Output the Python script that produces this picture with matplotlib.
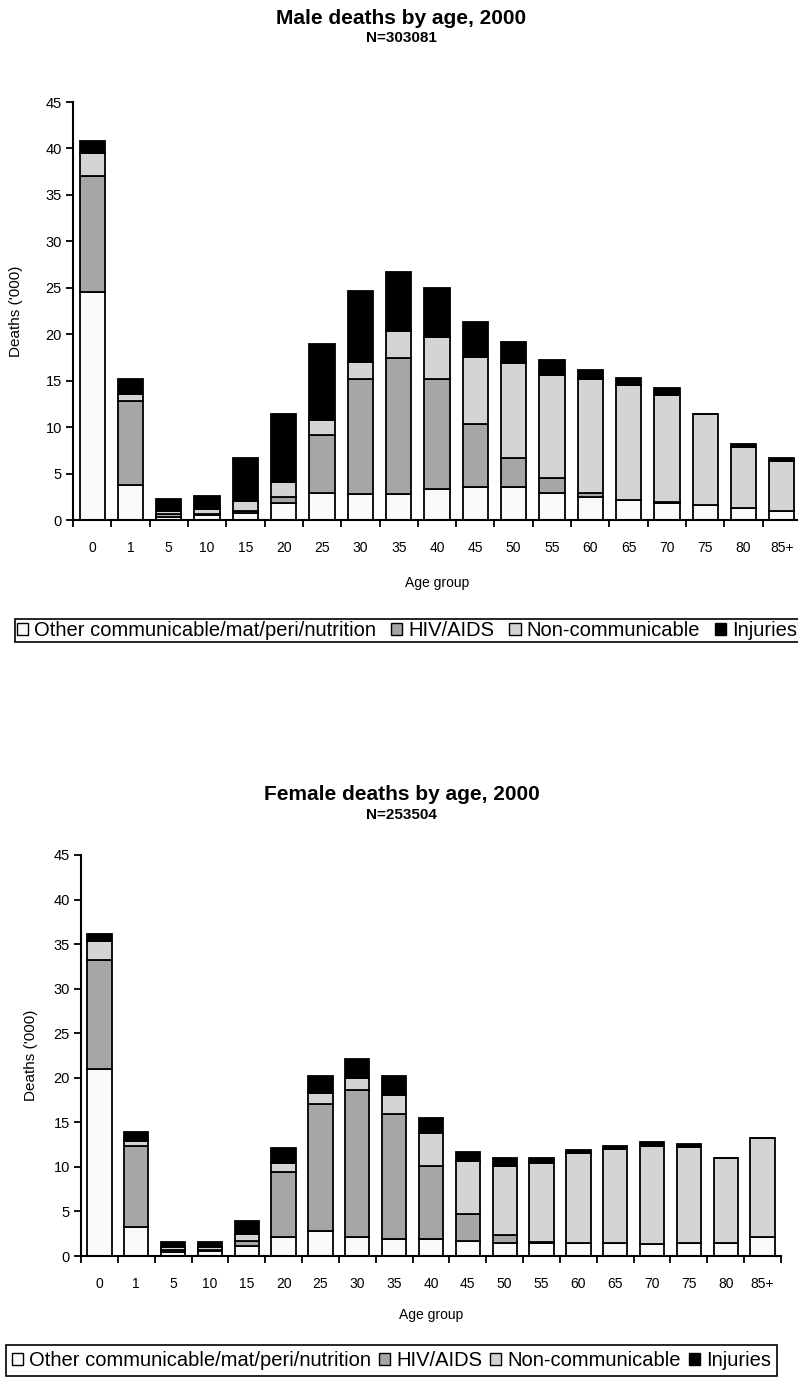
import numpy as np
import matplotlib
matplotlib.use("Agg")
import matplotlib.pyplot as plt
import matplotlib.patches as mpatches

plt.rcParams['font.family'] = ['Liberation Sans', 'DejaVu Sans']

age_groups = ['0', '1', '5', '10', '15', '20', '25', '30', '35', '40', '45',
              '50', '55', '60', '65', '70', '75', '80', '85+']
causes = ['Other communicable/mat/peri/nutrition', 'HIV/AIDS',
          'Non-communicable', 'Injuries']
cause_colors = ['#fafafa', '#a6a6a6', '#d4d4d4', '#000000']

# deaths in thousands, males
male_other = [24.5, 3.8, 0.3, 0.5, 0.8, 1.8, 2.9, 2.75, 2.75, 3.35, 3.6, 3.6,
              2.95, 2.5, 2.1, 1.85, 1.65, 1.25, 1.0]
male_hiv = [12.5, 9.0, 0.3, 0.15, 0.15, 0.7, 6.3, 12.45, 14.65, 11.85, 6.7,
            3.05, 1.55, 0.45, 0.05, 0.05, 0.0, 0.0, 0.0]
male_noncomm = [2.5, 0.8, 0.4, 0.5, 1.05, 1.6, 1.6, 1.85, 2.9, 4.5, 7.2,
                10.25, 11.1, 12.25, 12.4, 11.6, 9.75, 6.65, 5.35]
male_injuries = [1.25, 1.6, 1.3, 1.45, 4.65, 7.3, 8.1, 7.55, 6.45, 5.3, 3.8,
                 2.3, 1.6, 0.95, 0.7, 0.7, 0.05, 0.3, 0.3]

# deaths in thousands, females
female_other = [21.0, 3.2, 0.4, 0.6, 1.1, 2.1, 2.8, 2.1, 1.9, 1.9, 1.7, 1.5,
                1.5, 1.5, 1.5, 1.3, 1.5, 1.5, 2.1]
female_hiv = [12.2, 9.1, 0.3, 0.1, 0.6, 7.3, 14.25, 16.5, 14.0, 8.25, 3.0,
              0.9, 0.05, 0.0, 0.0, 0.0, 0.0, 0.0, 0.0]
female_noncomm = [2.1, 0.55, 0.3, 0.3, 0.8, 1.05, 1.25, 1.4, 2.15, 3.65, 5.95,
                  7.65, 8.9, 10.05, 10.5, 11.1, 10.7, 9.5, 11.1]
female_injuries = [0.8, 1.05, 0.6, 0.6, 1.4, 1.7, 1.85, 2.15, 2.1, 1.65, 1.0,
                   0.95, 0.55, 0.3, 0.3, 0.35, 0.35, 0.05, 0.05]

W, H = 798, 1383
fig = plt.figure(figsize=(W / 100, H / 100), dpi=100)


def fx(px):
    return px / W


def fy(py):
    return 1 - py / H


def draw_panel(rect, series, title, subtitle, title_y, legend_xy,
               xlabelpad, ylabelpad, colspace, legpad):
    ax = fig.add_axes(rect)
    x = np.arange(len(age_groups))
    bottom = np.zeros(len(age_groups))
    for vals, col in zip(series, cause_colors):
        vals = np.array(vals)
        ax.bar(x, vals, width=0.66, bottom=bottom, color=col,
               edgecolor='black', linewidth=1.3)
        bottom += vals

    ax.set_xlim(-0.5, len(age_groups) - 0.5)
    ax.set_ylim(0, 45)
    ax.set_yticks(np.arange(0, 46, 5))
    ax.set_xticks(np.arange(-0.5, len(age_groups), 1.0))
    ax.set_xticklabels([])
    ax.set_xticks(x, minor=True)
    ax.set_xticklabels(age_groups, minor=True)
    ax.tick_params(axis='x', which='major', direction='out', length=5,
                   width=1.3)
    ax.tick_params(axis='x', which='minor', length=0, pad=15, labelsize=10)
    ax.tick_params(axis='y', direction='out', length=5, width=1.3,
                   labelsize=10.5, pad=3)
    for s in ['top', 'right']:
        ax.spines[s].set_visible(False)
    for s in ['left', 'bottom']:
        ax.spines[s].set_linewidth(1.5)
    ax.set_xlabel('Age group', fontsize=10, labelpad=xlabelpad)
    ax.set_ylabel("Deaths ('000)", fontsize=11, labelpad=ylabelpad)

    fig.text(0.503, fy(title_y), title, ha='center', va='center',
             fontsize=15, fontweight='bold')
    fig.text(0.503, fy(title_y + 20), subtitle, ha='center',
             va='center', fontsize=11, fontweight='bold')

    handles = [mpatches.Patch(facecolor=c, edgecolor='black', linewidth=1.0,
                              label=l) for c, l in zip(cause_colors, causes)]
    leg = fig.legend(handles=handles, loc='upper left', ncol=4,
                     bbox_to_anchor=(fx(legend_xy[0]), fy(legend_xy[1])),
                     bbox_transform=fig.transFigure, fontsize=14.5,
                     handlelength=0.55, handleheight=0.55, handletextpad=0.3,
                     columnspacing=colspace, borderpad=legpad,
                     borderaxespad=0, frameon=True, fancybox=False,
                     edgecolor='black', framealpha=1)
    leg.get_frame().set_linewidth(1.2)
    return ax


draw_panel([fx(73), fy(520), fx(801) - fx(73), fy(102) - fy(520)],
           [male_other, male_hiv, male_noncomm, male_injuries],
           'Male deaths by age, 2000', 'N=303081', 18, (15, 619),
           xlabelpad=15.5, ylabelpad=16, colspace=0.75, legpad=0.1)

draw_panel([fx(81), fy(1256), fx(781) - fx(81), fy(855) - fy(1256)],
           [female_other, female_hiv, female_noncomm, female_injuries],
           'Female deaths by age, 2000', 'N=253504', 795, (6, 1345),
           xlabelpad=12, ylabelpad=11, colspace=0.4, legpad=0.3)

fig.savefig('out.png', dpi=100, facecolor='white')
